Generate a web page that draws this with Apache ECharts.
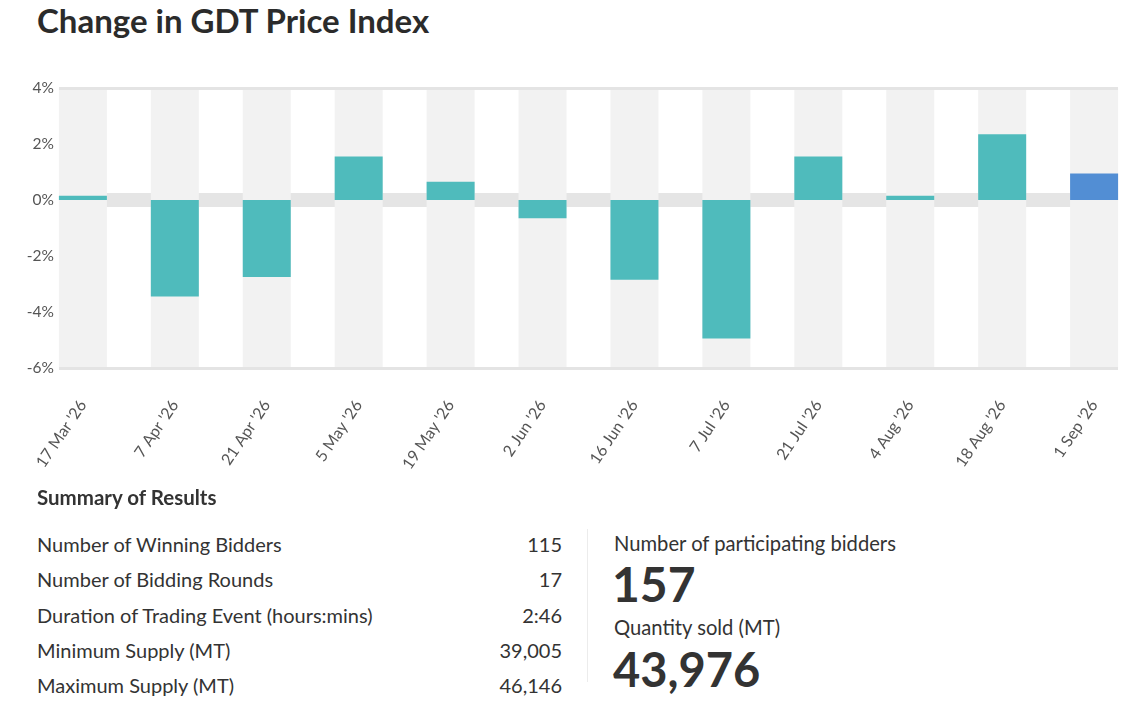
<!DOCTYPE html>
<html>
<head>
<meta charset="utf-8">
<script src="https://cdn.jsdelivr.net/npm/echarts@6/dist/echarts.min.js"></script>
<style>
  body { margin: 0; background: #fff; font-family: Lato, "Open Sans", sans-serif; color: #333; }
  #page { position: relative; width: 1132px; height: 717px; overflow: hidden; }
  #chart { position: absolute; left: 0; top: 0; width: 1132px; height: 490px; }
  .abs { position: absolute; white-space: nowrap; }
  .row { position: absolute; left: 37px; width: 525px; height: 35.3px; line-height: 35.3px; font-size: 20px; }
  .row span { position: absolute; right: 0; }
</style>
</head>
<body>
<div id="page">
  <div class="abs" style="left:37px;top:-1px;font-weight:700;font-size:33px;line-height:42px;color:#2b2b2b;">Change in GDT Price Index</div>
  <div id="chart"></div>
  <div class="abs" style="left:37px;top:484px;font-weight:700;font-size:20.5px;line-height:26px;">Summary of Results</div>
  <div id="rows"></div>
  <div class="abs" style="left:587px;top:529px;width:1px;height:153px;background:#ececec;"></div>
  <div class="abs" style="left:614px;top:526px;font-size:20.2px;line-height:35px;">Number of participating bidders</div>
  <div class="abs" id="bidders" style="left:612px;top:560px;font-weight:700;font-size:48px;line-height:48px;"></div>
  <div class="abs" style="left:614px;top:610px;font-size:20.2px;line-height:35px;">Quantity sold (MT)</div>
  <div class="abs" id="sold" style="left:613px;top:645px;font-weight:700;font-size:47px;line-height:48px;"></div>
</div>
<script>
// auction dates and change in price index (%)
const dates = ["17 Mar '26", "7 Apr '26", "21 Apr '26", "5 May '26", "19 May '26", "2 Jun '26",
  "16 Jun '26", "7 Jul '26", "21 Jul '26", "4 Aug '26", "18 Aug '26", "1 Sep '26"]
const changes = [0.15, -3.45, -2.75, 1.55, 0.65, -0.65, -2.85, -4.95, 1.55, 0.15, 2.35, 0.95]
const yTicks = [-6, -4, -2, 0, 2, 4]

// summary table
const summaryLabels = ['Number of Winning Bidders', 'Number of Bidding Rounds',
  'Duration of Trading Event (hours:mins)', 'Minimum Supply (MT)', 'Maximum Supply (MT)']
const summaryValues = ['115', '17', '2:46', '39,005', '46,146']
const participatingBidders = '157'
const quantitySold = '43,976'

const rowsEl = document.getElementById('rows')
summaryLabels.forEach((label, i) => {
  const d = document.createElement('div')
  d.className = 'row'
  d.style.top = (527 + i * 35.3) + 'px'
  d.textContent = label
  const v = document.createElement('span')
  v.textContent = summaryValues[i]
  d.appendChild(v)
  rowsEl.appendChild(d)
})
document.getElementById('bidders').textContent = participatingBidders
document.getElementById('sold').textContent = quantitySold

const teal = '#4fbbbc'
const blue = '#528ed4'

const chart = echarts.init(document.getElementById('chart'))
chart.setOption({
  animation: false,
  textStyle: { fontFamily: 'Lato' },
  grid: { left: 59, top: 88, width: 1059, height: 280, outerBoundsMode: 'none' },
  xAxis: {
    type: 'value',
    min: -0.26,
    max: dates.length - 1 + 0.26,
    axisLine: { show: false, onZero: false },
    axisTick: { show: false },
    splitLine: { show: false },
    axisLabel: {
      customValues: dates.map((d, i) => i),
      formatter: v => dates[Math.round(v)],
      rotate: 56,
      margin: 34,
      fontSize: 16,
      color: '#555'
    }
  },
  yAxis: {
    type: 'value',
    min: yTicks[0],
    max: yTicks[yTicks.length - 1],
    interval: 2,
    axisLine: { show: false },
    axisTick: { show: false },
    splitLine: { show: false },
    axisLabel: { formatter: '{value}%', fontSize: 15.5, color: '#555', margin: 5 }
  },
  series: [{
    type: 'bar',
    barWidth: 48,
    z: 3,
    data: changes.map((v, i) => ({
      value: [i, v],
      itemStyle: { color: i === changes.length - 1 ? blue : teal }
    })),
    showBackground: true,
    backgroundStyle: { color: '#f2f2f2' },
    markArea: {
      silent: true,
      z: 1,
      itemStyle: { color: '#e5e5e5' },
      data: [[{ yAxis: -0.25 }, { yAxis: 0.25 }]]
    },
    markLine: {
      silent: true,
      symbol: 'none',
      label: { show: false },
      lineStyle: { color: '#e4e4e4', width: 3, type: 'solid' },
      data: [{ yAxis: yTicks[0] }, { yAxis: yTicks[yTicks.length - 1] }]
    }
  }]
})
</script>
</body>
</html>
